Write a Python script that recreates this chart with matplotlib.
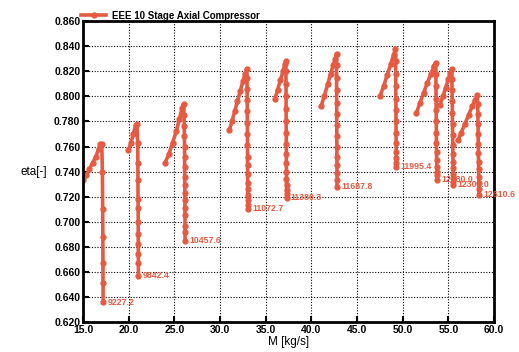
import matplotlib
matplotlib.use("Agg")
import matplotlib.pyplot as plt

matplotlib.rcParams['font.family'] = ['Liberation Sans', 'DejaVu Sans']
matplotlib.rcParams['font.weight'] = 'bold'

# ==================== data ====================
speeds = ['9227.2', '9842.4', '10457.6', '11072.7', '11380.3',
          '11687.8', '11995.4', '12180.0', '12303.0', '12610.6']

m_9227 = [15.0, 15.35, 15.7, 16.05, 16.4, 16.7, 16.9, 17.05,
          17.12, 17.15, 17.17, 17.18, 17.19, 17.2]
eta_9227 = [0.733, 0.737, 0.742, 0.747, 0.752, 0.758, 0.762, 0.762,
            0.740, 0.710, 0.688, 0.667, 0.651, 0.636]

m_9842 = [19.96, 20.25, 20.5, 20.75, 20.9,
          20.98, 21.0, 21.01, 21.02, 21.03, 21.04, 21.04, 21.05, 21.05, 21.06, 21.06]
eta_9842 = [0.757, 0.763, 0.770, 0.777, 0.778,
            0.763, 0.747, 0.733, 0.718, 0.711, 0.700, 0.690, 0.682, 0.674, 0.667, 0.657]

m_10457 = [23.98, 24.4, 24.8, 25.2, 25.55, 25.85, 26.0,
           26.06, 26.08, 26.1, 26.11, 26.12, 26.12, 26.13, 26.14, 26.14,
           26.15, 26.15, 26.16, 26.16, 26.17, 26.17]
eta_10457 = [0.747, 0.754, 0.763, 0.772, 0.782, 0.791, 0.794,
             0.785, 0.776, 0.768, 0.760, 0.752, 0.744, 0.736, 0.729, 0.723,
             0.717, 0.711, 0.705, 0.697, 0.692, 0.685]

m_11072 = [31.02, 31.3, 31.6, 31.9, 32.2, 32.5, 32.75, 32.92,
           32.95, 32.96, 32.97, 32.98, 32.99, 33.0, 33.0, 33.01,
           33.01, 33.02, 33.02, 33.03, 33.03, 33.04, 33.04, 33.05]
eta_11072 = [0.773, 0.780, 0.788, 0.796, 0.804, 0.812, 0.818, 0.822,
             0.815, 0.806, 0.797, 0.788, 0.779, 0.770, 0.761, 0.752,
             0.745, 0.738, 0.731, 0.726, 0.721, 0.717, 0.713, 0.7105]

m_11380 = [36.0, 36.3, 36.6, 36.9, 37.1, 37.2,
           37.21, 37.22, 37.23, 37.23, 37.24, 37.25, 37.25, 37.26,
           37.26, 37.27, 37.27, 37.28, 37.28, 37.29, 37.3]
eta_11380 = [0.798, 0.805, 0.813, 0.820, 0.826, 0.828,
             0.820, 0.810, 0.800, 0.790, 0.780, 0.771, 0.762, 0.754,
             0.747, 0.740, 0.734, 0.729, 0.725, 0.722, 0.719]

m_11687 = [41.05, 41.4, 41.8, 42.1, 42.4, 42.6, 42.75,
           42.75, 42.76, 42.76, 42.77, 42.77, 42.78, 42.78, 42.79,
           42.79, 42.8, 42.8, 42.8, 42.81]
eta_11687 = [0.792, 0.800, 0.810, 0.818, 0.825, 0.830, 0.834,
             0.825, 0.815, 0.805, 0.795, 0.786, 0.777, 0.768, 0.760,
             0.752, 0.745, 0.739, 0.733, 0.728]

m_11995 = [47.5, 47.9, 48.3, 48.7, 49.0, 49.2,
           49.22, 49.23, 49.24, 49.25, 49.26, 49.26, 49.27, 49.28,
           49.28, 49.29, 49.29, 49.3]
eta_11995 = [0.800, 0.808, 0.817, 0.826, 0.833, 0.838,
             0.828, 0.818, 0.808, 0.798, 0.789, 0.780, 0.771, 0.763,
             0.756, 0.751, 0.747, 0.744]

m_12180 = [51.5, 51.9, 52.3, 52.7, 53.1, 53.4, 53.6,
           53.63, 53.64, 53.65, 53.66, 53.67, 53.68, 53.69, 53.7,
           53.71, 53.72, 53.73, 53.74, 53.75]
eta_12180 = [0.787, 0.795, 0.803, 0.811, 0.818, 0.824, 0.827,
             0.818, 0.808, 0.798, 0.789, 0.780, 0.771, 0.763, 0.756,
             0.749, 0.744, 0.740, 0.737, 0.7335]

m_12303 = [54.05, 54.4, 54.7, 55.0, 55.2, 55.35,
           55.38, 55.4, 55.42, 55.43, 55.45, 55.46, 55.48, 55.49,
           55.5, 55.51, 55.52, 55.53, 55.54, 55.55]
eta_12303 = [0.793, 0.800, 0.807, 0.814, 0.819, 0.822,
             0.814, 0.805, 0.796, 0.787, 0.778, 0.769, 0.761, 0.754,
             0.748, 0.743, 0.738, 0.735, 0.732, 0.7295]

m_12610 = [56.05, 56.4, 56.8, 57.2, 57.6, 57.9, 58.15,
           58.2, 58.22, 58.24, 58.25, 58.27, 58.28, 58.3, 58.31,
           58.32, 58.33, 58.34, 58.35]
eta_12610 = [0.765, 0.771, 0.778, 0.785, 0.792, 0.797, 0.801,
             0.794, 0.786, 0.778, 0.770, 0.762, 0.755, 0.748, 0.742,
             0.736, 0.731, 0.726, 0.7215]

m_lines = [m_9227, m_9842, m_10457, m_11072, m_11380,
           m_11687, m_11995, m_12180, m_12303, m_12610]
eta_lines = [eta_9227, eta_9842, eta_10457, eta_11072, eta_11380,
             eta_11687, eta_11995, eta_12180, eta_12303, eta_12610]

x_ticks = [15.0, 20.0, 25.0, 30.0, 35.0, 40.0, 45.0, 50.0, 55.0, 60.0]
y_ticks = [0.620, 0.640, 0.660, 0.680, 0.700, 0.720, 0.740,
           0.760, 0.780, 0.800, 0.820, 0.840, 0.860]

# ==================== plot ====================
color = '#E65A41'
fig = plt.figure(figsize=(5.19, 3.52), dpi=100)
ax = fig.add_axes([0.16, 0.085, 0.792, 0.855])

for i, (m, eta) in enumerate(zip(m_lines, eta_lines)):
    ax.plot(m, eta, color=color, lw=2.6, marker='o', ms=3.5,
            label='EEE 10 Stage Axial Compressor' if i == 0 else None)
    ax.annotate(speeds[i], (m[-1], eta[-1]), xytext=(3, 0),
                textcoords='offset points', va='center', ha='left',
                fontsize=6.3, color=color)

ax.set_xlim(15, 60)
ax.set_ylim(0.62, 0.86)
ax.set_xticks(x_ticks)
ax.set_yticks(y_ticks)
ax.set_xticklabels([f'{v:.1f}' for v in x_ticks], fontsize=7.5)
ax.set_yticklabels([f'{v:.3f}' for v in y_ticks], fontsize=7.5)
ax.tick_params(direction='in', length=4, width=1.5, pad=2)
ax.grid(True, color='black', linestyle=(0, (1, 1.5)), lw=0.8)
for s in ax.spines.values():
    s.set_linewidth(2)

ax.set_xlabel('M [kg/s]', fontsize=8.5, labelpad=1)
ax.set_ylabel('eta[-]', fontsize=8.5, rotation=0, labelpad=4, va='center')
ax.yaxis.set_label_coords(-0.12, 0.5)

ax.legend(loc='lower left', bbox_to_anchor=(-0.01, 0.995), frameon=False,
          fontsize=7, handlelength=2.6, handletextpad=0.6,
          borderaxespad=0, borderpad=0.2)

plt.savefig('out.png', dpi=100)
plt.close()
